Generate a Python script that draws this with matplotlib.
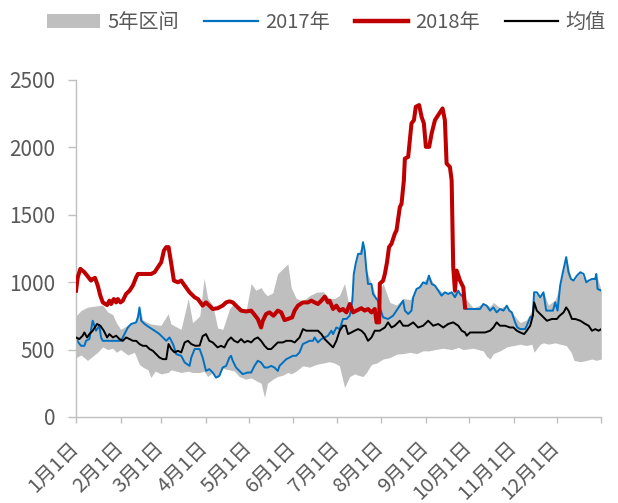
import matplotlib
matplotlib.use("Agg")
import matplotlib.pyplot as plt
from matplotlib.patches import Patch
from matplotlib.lines import Line2D

plt.rcParams['font.family'] = ['Noto Sans CJK SC', 'DejaVu Sans']

# ---- x tick labels (month starts, day-of-year) ----
month_days = [0, 31, 59, 90, 120, 151, 181, 212, 243, 273, 304, 334, 365]
month_labels = ["1月1日", "2月1日", "3月1日", "4月1日", "5月1日", "6月1日",
                "7月1日", "8月1日", "9月1日", "10月1日", "11月1日", "12月1日"]

# ---- 5-year band (day, upper, lower) ----
band_days = [0, 3.5, 8, 15, 18.5, 22, 25.5, 28, 31, 36, 40.6, 44, 46.4, 50, 52, 55, 59, 64, 66,
             73, 78, 81, 86, 89, 91.5, 95, 98.4, 102, 106.6, 110, 113.5, 118, 121.7, 125, 128.6,
             131, 133, 136.7, 140, 143.7, 147.2, 149.5, 153, 157.6, 162.3, 167, 171.6, 176,
             179.7, 183, 186.6, 190.2, 193.6, 196, 199.4, 201.8, 205.3, 208.8, 213.4, 218,
             222.7, 227.3, 232, 236.6, 241.2, 245.2, 249.4, 255, 261, 265.6, 269, 276, 283,
             285.3, 287.7, 290, 294.6, 299.3, 304, 308.6, 313, 316.7, 318.3, 322.5, 324.8,
             328.3, 333, 336.4, 340.6, 344, 346, 350.4, 354.6, 358.5, 361.5, 365]
band_hi = [750, 790, 815, 825, 830, 780, 760, 700, 650, 680, 700, 813, 720, 700, 690, 685, 680, 766, 690,
           650, 880, 700, 750, 1030, 880, 830, 660, 650, 800, 850, 820, 780, 990, 940, 960,
           920, 900, 920, 1060, 1100, 1136, 960, 880, 860, 900, 925, 930, 880,
           880, 900, 990, 800, 1100, 1210, 1297, 1090, 990, 880, 990, 850,
           830, 880, 870, 950, 1000, 1049, 975, 920, 925, 937, 900, 810, 840,
           830, 820, 850, 810, 826, 760, 700, 720, 790, 925, 888, 925,
           830, 870, 975, 1186, 1024, 1012, 1074, 999, 1024, 1061, 937]
band_lo = [440, 460, 420, 480, 520, 500, 510, 480, 500, 460, 480, 390, 370, 350, 293, 340, 320, 330, 350,
           330, 340, 330, 330, 340, 300, 330, 290, 360, 350, 340, 300, 280, 290, 270, 250,
           144, 250, 280, 300, 310, 330, 320, 340, 380, 370, 390, 400, 410,
           400, 380, 218, 300, 320, 310, 300, 330, 390, 400, 430, 440,
           466, 470, 480, 470, 491, 490, 500, 510, 500, 516, 500, 510, 490,
           450, 430, 470, 490, 520, 530, 540, 530, 540, 480, 540, 550,
           540, 550, 540, 530, 480, 420, 410, 420, 430, 420, 430]

# ---- 2017 ----
y2017_days = [0, 1.6, 3.5, 5.8, 7, 9.3, 11.6, 13.9, 16.2, 17.4, 18.6, 31.3, 33.7, 36, 38.3, 41.8, 43,
              44.1, 45.3, 47.6, 51.1, 54.6, 58, 60.4, 62.7, 65, 67.4, 69.7, 73.1, 75.5, 78.9, 80.1,
              82.4, 85.9, 88, 90.3, 92.6, 95, 97.3, 99.6, 101.9, 104.3, 106.6, 107.7, 108.9, 111.2,
              113.5, 115.8, 119.3, 121.7, 124, 126.3, 128.6, 131, 133.3, 135.6, 137.9, 140.2, 141.4,
              143.7, 146.1, 148.4, 150.7, 153, 155.3, 157.6, 160, 162.3, 164.6, 165.8, 168.1, 170.5,
              172.8, 175.1, 177.4, 178.6, 180.9, 183.2, 185.5, 187.9, 190.2, 192, 193, 194.3, 196,
              198.3, 199.4, 200.6, 201.8, 202.9, 205.3, 206.4, 208.8, 209.9, 211, 213.4, 216.8,
              220.3, 222.7, 225, 227.3, 228.5, 230.8, 233.1, 234.3, 236.6, 238.9, 241.2, 243.6,
              245.2, 247.1, 249.4, 251.7, 254, 256.3, 258.6, 261, 263.3, 265.6, 267, 269, 270.5,
              276, 280.7, 283, 285.3, 287.7, 290, 292.3, 294.6, 297, 299.3, 301.1, 302.8, 305.1,
              306.7, 308.6, 312, 313.2, 315.6, 317.4, 318.3, 320.2, 322.5, 324.8, 326.7, 329, 331.4,
              333, 334.6, 336.4, 338.3, 340.6, 342.2, 343.9, 345.7, 348.1, 350.4, 352.7, 354.6,
              356.2, 358.5, 360.8, 361.5, 362.4, 365]
y2017 = [590, 553, 528, 528, 565, 578, 714, 640, 677, 590, 565, 565, 615, 664, 690, 702, 739,
         813, 714, 690, 664, 640, 615, 590, 565, 590, 541, 466, 454, 404, 379, 441,
         504, 504, 441, 342, 355, 330, 292, 305, 367, 379, 441, 454, 417, 367,
         342, 318, 330, 330, 379, 417, 404, 367, 367, 379, 367, 342, 379,
         404, 429, 441, 454, 454, 479, 541, 553, 565, 565, 590, 553, 578,
         590, 603, 640, 615, 664, 652, 727, 727, 751, 863, 1061, 1136, 1210,
         1210, 1297, 1235, 1086, 987, 987, 913, 875, 863, 813, 739, 727,
         751, 789, 826, 863, 789, 764, 789, 888, 950, 962, 999, 987,
         1049, 987, 975, 937, 900, 925, 913, 925, 888, 937, 910, 890, 801,
         801, 801, 838, 826, 789, 813, 776, 801, 789, 826, 789, 776, 702,
         664, 652, 652, 677, 739, 751, 925, 925, 888, 925, 789, 789, 789,
         850, 789, 975, 1074, 1186, 1074, 1024, 1012, 1049, 1074, 1061, 999,
         1012, 1024, 1024, 1061, 950, 937]

# ---- 2018 ----
y2018_days = [0, 1.2, 3, 5.8, 7.7, 10.4, 11.6, 13.2, 15.1, 16.9, 18.6, 21.6, 23.2, 24.4, 26.2, 27.9,
              29, 30.9, 32.5, 34.8, 37.2, 39.5, 41.8, 43, 52.2, 54.6, 56.9, 59.2, 61.1, 62.7, 64.3,
              66.2, 68, 70.8, 73.1, 75.5, 78.9, 82.4, 84.7, 88, 90.3, 92.6, 95, 98.4, 101.9, 104.3,
              106.6, 108.9, 111.2, 114.7, 118.2, 121.7, 124, 126.3, 128.6, 129.8, 132.1, 134.4,
              137.2, 140.2, 142.6, 144.9, 147.2, 150.2, 151.9, 154.2, 157.7, 161.2, 163.5, 165.8,
              168.1, 170.5, 172.8, 175.1, 176.2, 178.6, 180.9, 183.2, 185.5, 187.9, 190.2, 192.5,
              194.8, 198.3, 200.6, 202.9, 205.3, 207.6, 208.8, 210.6, 211.1, 213.4, 214.6, 216.1,
              217.5, 219.2, 221.5, 222.7, 225, 226.2, 227.8, 228.5, 230.8, 233.1, 234.8, 236.1,
              238.4, 240.1, 241.7, 243.1, 245.4, 247.1, 249.4, 251.7, 254.7, 256.3, 257.5, 259.8,
              261, 262.1, 263.3, 264.5, 266.8, 269.1, 270.3]
y2018 = [937, 1036, 1099, 1074, 1049, 1012, 1024, 1032, 975, 900, 850, 830, 863, 838, 875, 850,
         875, 850, 863, 913, 937, 975, 1036, 1061, 1061, 1074, 1111, 1148, 1235, 1260, 1260,
         1136, 1012, 999, 1012, 975, 925, 888, 875, 826, 850, 826, 801, 807, 826, 850,
         858, 850, 826, 789, 783, 789, 759, 727, 664, 714, 764, 776,
         751, 789, 776, 719, 727, 739, 789, 826, 850, 850, 863, 850,
         838, 863, 893, 850, 863, 801, 826, 789, 801, 776, 838, 776,
         789, 807, 789, 801, 776, 801, 702, 702, 989, 1012, 1061, 1148,
         1260, 1285, 1359, 1384, 1557, 1582, 1756, 1917, 1929, 2178, 2202, 2301,
         2314, 2227, 2178, 2004, 2004, 2103, 2202, 2240, 2289, 2202, 1880, 1855,
         1756, 1111, 937, 1086, 1012, 962, 813]

# ---- mean ----
mean_days = [0, 2.3, 4.6, 5.8, 7.7, 9.3, 11.6, 14.6, 16.9, 19.3, 21.6, 23.2, 25.6, 27.9, 30.2, 32.5,
             34.8, 37.2, 39.5, 41.8, 44.1, 46.4, 48.8, 51.1, 53.4, 55.7, 58, 60.4, 62.7, 64.3, 66.2,
             68.5, 70.8, 73.1, 75.5, 77.8, 80.1, 82.9, 85.9, 88, 90.3, 92.6, 95, 98.4, 100.7, 103.1,
             105.4, 107.7, 110, 112.4, 114.7, 117, 119.3, 121.7, 124, 126.3, 128.6, 131, 133.3,
             135.6, 137.9, 140.2, 143.7, 146.1, 149.5, 151.9, 155.3, 157.7, 160, 162.3, 165.8,
             168.1, 170.5, 172.8, 175.1, 177.4, 178.6, 180.9, 183.2, 185.5, 187.4, 189, 191.3,
             193.6, 196, 198.3, 200.6, 202.9, 205.3, 207.6, 211, 214.6, 216.8, 219.2, 221.5, 225,
             227.3, 230.8, 234.3, 237.7, 241.2, 244.7, 248.2, 251.7, 255.2, 258.6, 262.1, 265.6,
             268, 270.3, 271.5, 273.8, 277.2, 280.7, 284.2, 287.7, 290, 292.3, 294.6, 298.1,
             301.6, 303.9, 306.3, 308.6, 311.4, 313.2, 315.6, 317.4, 318.3, 320.2, 323.7, 327.2,
             330.7, 334.1, 336, 338.8, 340.6, 342.2, 344.6, 346.9, 350.4, 353.9, 356.2, 358.5,
             360.8, 363.1, 365]
mean = [590, 578, 603, 627, 590, 615, 640, 690, 677, 640, 590, 615, 590, 603, 578, 565,
        590, 578, 565, 565, 541, 528, 528, 504, 491, 466, 441, 429, 429, 541, 504,
        479, 491, 479, 553, 565, 541, 528, 530, 600, 615, 565, 553, 516, 528, 516,
        565, 590, 565, 553, 578, 553, 565, 553, 578, 590, 565, 528, 504,
        504, 528, 553, 553, 565, 565, 553, 590, 652, 640, 640, 640,
        640, 615, 578, 553, 528, 516, 565, 640, 677, 677, 615, 627,
        640, 652, 640, 615, 565, 590, 640, 640, 664, 702, 664, 677, 714,
        677, 677, 702, 664, 677, 714, 677, 690, 664, 690, 702, 677,
        640, 627, 603, 627, 627, 627, 627, 640, 664, 702, 677, 677,
        664, 664, 640, 627, 615, 640, 677, 751, 850, 789, 751, 714,
        727, 727, 751, 776, 813, 789, 727, 727, 714, 690, 677, 640,
        652, 640, 652]

axis_grey = "#BFBFBF"
text_grey = "#595959"

fig = plt.figure(figsize=(6.18, 5.03), dpi=100)
ax = fig.add_axes([0.1230, 0.171, 0.850, 0.670])

ax.fill_between(band_days, band_lo, band_hi, color="#BFBFBF", lw=0, zorder=1)
ax.plot(y2017_days, y2017, color="#0070C0", lw=1.4, zorder=2)
ax.plot(y2018_days, y2018, color="#C00000", lw=2.9, zorder=3, solid_joinstyle="round")
ax.plot(mean_days, mean, color="black", lw=1.4, zorder=4)

ax.set_xlim(0, 365)
ax.set_ylim(0, 2500)
ax.set_yticks(range(0, 2501, 500))
ax.set_xticks(month_days)
ax.set_xticklabels(month_labels + [""], rotation=45, ha="right", va="center",
                   rotation_mode="anchor")

for s in ["top", "right"]:
    ax.spines[s].set_visible(False)
for s in ["left", "bottom"]:
    ax.spines[s].set_color(axis_grey)
    ax.spines[s].set_linewidth(1.0)
ax.tick_params(axis="both", colors=axis_grey, labelcolor=text_grey,
               width=1.0, direction="out")
ax.tick_params(axis="y", labelsize=15, length=6, pad=9)
ax.tick_params(axis="x", labelsize=14.5, length=4, pad=16)

handles = [Patch(facecolor="#BFBFBF", edgecolor="none"),
           Line2D([], [], color="#0070C0", lw=1.6),
           Line2D([], [], color="#C00000", lw=3.2),
           Line2D([], [], color="black", lw=1.6)]
labels = ["5年区间", "2017年", "2018年", "均值"]
leg = fig.legend(handles, labels, loc="center", bbox_to_anchor=(0.528, 0.955), ncol=4,
                 frameon=False, fontsize=14.5, handlelength=2.65, handleheight=0.75,
                 handletextpad=0.35, columnspacing=1.25, labelcolor=text_grey)

fig.savefig("out.png", dpi=100)
